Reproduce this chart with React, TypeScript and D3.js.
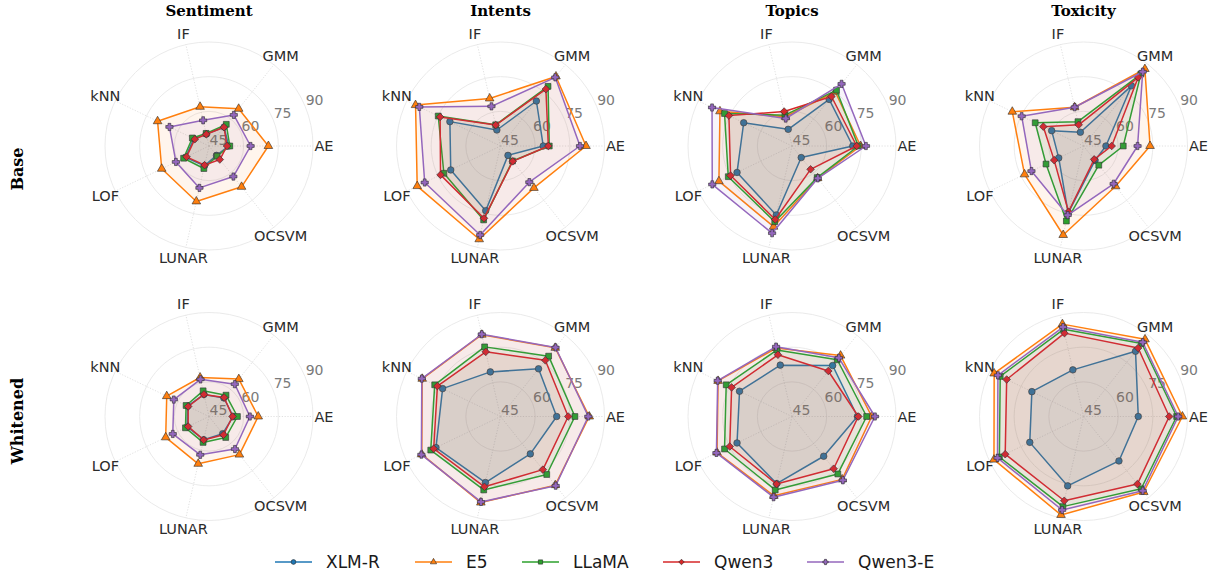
import React from "react";
import * as d3 from "d3";

// Radar axes (anomaly detectors), counter-clockwise from the right
const detectors = ["AE", "GMM", "IF", "kNN", "LOF", "LUNAR", "OCSVM"];
const models = ["XLM-R", "E5", "LLaMA", "Qwen3", "Qwen3-E"];
const modelColors = ["#1f77b4", "#ff7f0e", "#2ca02c", "#d62728", "#9467bd"];
const modelMarkers = ["circle", "triangle", "square", "diamond", "plus"];
const datasets = ["Sentiment", "Intents", "Topics", "Toxicity"];
const variants = ["Base", "Whitened"];
const radialTicks = [45, 60, 75, 90];

// Scores per model (rows: XLM-R, E5, LLaMA, Qwen3, Qwen3-E; columns follow `detectors`)
const baseSentiment = [
  [53.5, 55.5, 50.3, 52.3, 56.3, 53.8, 50.2],
  [70.7, 65.6, 62.4, 69.7, 67.7, 69.6, 67.6],
  [54.0, 57.0, 50.6, 53.0, 57.2, 55.0, 50.6],
  [52.8, 55.4, 50.2, 51.8, 55.8, 53.5, 52.5],
  [63.0, 62.2, 56.4, 64.0, 60.9, 63.6, 61.9],
];
const baseIntents = [
  [63.5, 69.9, 52.1, 69.3, 68.9, 73.7, 50.2],
  [82.0, 83.5, 66.1, 85.8, 85.0, 86.4, 68.2],
  [66.1, 78.0, 54.4, 74.9, 72.2, 77.8, 53.3],
  [65.7, 76.5, 54.3, 74.0, 73.8, 77.1, 53.5],
  [79.4, 83.0, 62.6, 84.0, 81.4, 84.5, 65.0],
];
const baseTopics = [
  [71.3, 70.8, 52.4, 68.2, 71.4, 75.6, 51.4],
  [74.7, 75.0, 58.0, 79.6, 80.1, 80.8, 62.8],
  [73.7, 75.9, 58.7, 77.4, 75.6, 78.6, 62.5],
  [73.0, 72.4, 60.3, 75.3, 74.5, 77.6, 57.9],
  [77.0, 79.4, 57.2, 83.4, 83.3, 83.7, 62.9],
];
const baseToxicity = [
  [54.7, 78.3, 51.1, 60.3, 56.9, 74.8, 53.0],
  [73.8, 87.6, 62.2, 79.2, 73.3, 84.5, 67.3],
  [62.2, 84.8, 55.8, 68.2, 63.0, 78.3, 55.6],
  [57.2, 83.0, 54.4, 64.3, 59.1, 74.2, 52.4],
  [68.4, 86.1, 62.2, 74.7, 70.0, 75.7, 65.9],
];
const whitenedSentiment = [
  [55.5, 55.3, 54.8, 55.3, 55.5, 55.3, 54.5],
  [66.3, 65.7, 62.3, 65.3, 65.8, 66.0, 66.1],
  [57.3, 56.8, 56.4, 56.0, 56.3, 56.5, 56.6],
  [55.2, 55.5, 54.8, 55.0, 55.0, 55.4, 55.1],
  [62.7, 62.9, 61.5, 61.9, 62.4, 62.0, 63.0],
];
const whitenedIntents = [
  [69.3, 71.4, 64.8, 72.8, 76.0, 74.3, 65.7],
  [83.4, 83.0, 81.3, 82.6, 82.8, 83.2, 83.0],
  [77.2, 78.4, 75.9, 76.6, 78.5, 77.6, 77.1],
  [74.3, 76.1, 73.7, 75.3, 77.1, 76.2, 74.4],
  [83.0, 83.2, 81.5, 82.8, 83.0, 82.9, 83.3],
];
const whitenedTopics = [
  [73.3, 73.2, 67.8, 70.2, 71.4, 74.8, 67.0],
  [79.5, 78.7, 75.4, 80.5, 81.0, 80.2, 79.8],
  [77.3, 76.4, 74.5, 76.6, 77.4, 77.6, 76.8],
  [73.7, 70.2, 72.4, 74.0, 74.9, 75.0, 73.9],
  [80.9, 77.5, 76.0, 80.7, 81.3, 80.8, 80.3],
];
const whitenedToxicity = [
  [68.7, 81.1, 65.7, 69.8, 70.8, 75.8, 69.6],
  [87.8, 87.7, 86.0, 87.9, 88.0, 88.7, 86.8],
  [85.3, 85.4, 83.7, 85.0, 85.4, 85.0, 85.0],
  [82.1, 82.9, 82.0, 81.9, 82.6, 82.4, 82.4],
  [86.0, 86.1, 84.7, 86.1, 86.3, 86.5, 86.1],
];

const panels = [
  [baseSentiment, baseIntents, baseTopics, baseToxicity],
  [whitenedSentiment, whitenedIntents, whitenedTopics, whitenedToxicity],
];

const W = 1217;
const H = 576;
const colX = [209, 500.5, 792, 1083.5];
const rowY = [146, 416.5];
const rowLabelY = [169, 421];
const R = 104;

const rScale = d3.scaleLinear().domain([45, 90]).range([0, R]);
const angle = (i: number) => (i * 2 * Math.PI) / detectors.length;
const polar = (i: number, r: number): [number, number] => [
  r * Math.cos(angle(i)),
  -r * Math.sin(angle(i)),
];

function markerPath(kind: string, size: number) {
  const gen = d3.symbol();
  if (kind === "circle") return gen.type(d3.symbolCircle).size(size)()!;
  if (kind === "triangle") return gen.type(d3.symbolTriangle).size(size * 0.95)()!;
  if (kind === "square") return gen.type(d3.symbolSquare).size(size)()!;
  if (kind === "diamond") return gen.type(d3.symbolSquare).size(size * 0.85)()!;
  // filled plus
  const a = Math.sqrt(size) * 0.62;
  const b = a / 2.6;
  return `M${-b},${-a}H${b}V${-b}H${a}V${b}H${b}V${a}H${-b}V${b}H${-a}V${-b}H${-b}Z`;
}

function Marker({ kind, x, y, color, size }: { kind: string; x: number; y: number; color: string; size: number }) {
  return (
    <path
      d={markerPath(kind, size)}
      transform={`translate(${x},${y})${kind === "diamond" ? " rotate(45)" : ""}`}
      fill={color}
      stroke="#2a2a2a"
      strokeWidth={0.6}
    />
  );
}

function Radar({ cx, cy, data }: { cx: number; cy: number; data: number[][] }) {
  const line = d3
    .line<number>()
    .x((v, i) => polar(i, rScale(v))[0])
    .y((v, i) => polar(i, rScale(v))[1])
    .curve(d3.curveLinearClosed);
  const rlDir = (22.5 * Math.PI) / 180;
  return (
    <g transform={`translate(${cx},${cy})`}>
      {radialTicks.slice(1).map((t) => (
        <circle key={t} r={rScale(t)} fill="none" stroke="#e8e8e8" strokeWidth={0.9} />
      ))}
      {detectors.map((d, i) => {
        const [x, y] = polar(i, R);
        return (
          <line key={d} x1={0} y1={0} x2={x} y2={y} stroke="#d8d8d8" strokeWidth={0.8} strokeDasharray="1.2,1.6" />
        );
      })}
      {radialTicks.map((t) => (
        <text
          key={t}
          x={rScale(t) * Math.cos(rlDir) + 9.5}
          y={-rScale(t) * Math.sin(rlDir) - 6.5}
          textAnchor="middle"
          dominantBaseline="central"
          fontFamily="DejaVu Sans"
          fontSize={14}
          fill="#7a7a7a"
        >
          {t}
        </text>
      ))}
      {detectors.map((d, i) => {
        const [x, y] = polar(i, 115);
        return (
          <text
            key={d}
            x={x}
            y={y}
            textAnchor="middle"
            dominantBaseline="central"
            fontFamily="DejaVu Sans"
            fontSize={14.5}
            fill="#2b2b2b"
          >
            {d}
          </text>
        );
      })}
      {data.map((vals, m) => (
        <g key={m}>
          <path d={line(vals)!} fill={modelColors[m]} fillOpacity={0.075} stroke="none" />
          <path d={line(vals)!} fill="none" stroke={modelColors[m]} strokeWidth={1.5} strokeLinejoin="round" />
          {vals.map((v, i) => {
            const [x, y] = polar(i, rScale(v));
            return <Marker key={i} kind={modelMarkers[m]} x={x} y={y} color={modelColors[m]} size={34} />;
          })}
        </g>
      ))}
    </g>
  );
}

const legendX = [275, 415, 522, 663, 807];

export default function App() {
  return (
    <svg
      width={W}
      height={H}
      viewBox={`0 0 ${W} ${H}`}
      style={{ position: "absolute", left: 0, top: 0, background: "#fff" }}
    >
      <rect width={W} height={H} fill="#fff" />
      {datasets.map((ds, c) => (
        <text
          key={ds}
          x={colX[c]}
          y={11}
          textAnchor="middle"
          dominantBaseline="central"
          fontFamily="DejaVu Serif"
          fontWeight="bold"
          fontSize={15}
          fill="#000"
        >
          {ds}
        </text>
      ))}
      {variants.map((v, r) => (
        <text
          key={v}
          transform={`translate(17,${rowLabelY[r]}) rotate(-90)`}
          textAnchor="middle"
          dominantBaseline="central"
          fontFamily="DejaVu Serif"
          fontWeight="bold"
          fontSize={16}
          fill="#000"
        >
          {v}
        </text>
      ))}
      {panels.map((row, r) =>
        row.map((data, c) => <Radar key={`${r}-${c}`} cx={colX[c]} cy={rowY[r]} data={data} />)
      )}
      <g>
        {models.map((m, i) => {
          const x0 = legendX[i];
          const y0 = 562;
          return (
            <g key={m}>
              <line x1={x0} x2={x0 + 37} y1={y0} y2={y0} stroke={modelColors[i]} strokeWidth={1.5} />
              <Marker kind={modelMarkers[i]} x={x0 + 18.5} y={y0} color={modelColors[i]} size={18} />
              <text
                x={x0 + 51}
                y={y0}
                dominantBaseline="central"
                fontFamily="DejaVu Sans"
                fontSize={17}
                fill="#1a1a1a"
              >
                {m}
              </text>
            </g>
          );
        })}
      </g>
    </svg>
  );
}
